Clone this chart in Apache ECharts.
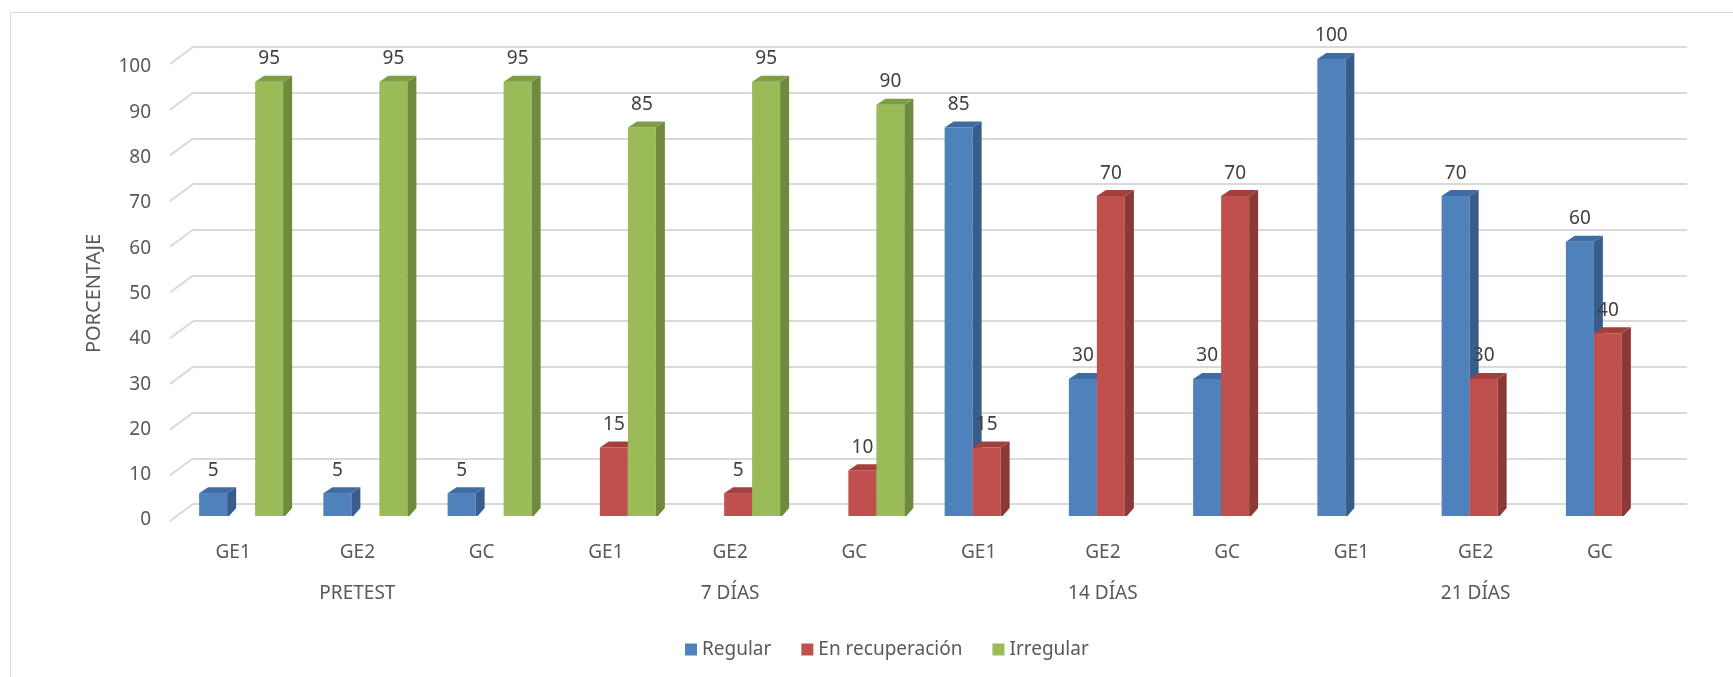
<html><head>
<meta charset="UTF-8">
<title>Porcentaje por grupo</title>
<style>
  body { margin: 0; background: #fff; }
  #chart { width: 1733px; height: 677px; }
</style>
</head>
<body>
<div id="chart"></div>
<script src="https://cdn.jsdelivr.net/npm/echarts@6/dist/echarts.min.js"></script>
<script>
  // datos
  const categorias = ['GE1', 'GE2', 'GC', 'GE1', 'GE2', 'GC', 'GE1', 'GE2', 'GC', 'GE1', 'GE2', 'GC'];
  const grupos = ['PRETEST', '7 DÍAS', '14 DÍAS', '21 DÍAS'];
  const regular = [5, 5, 5, 0, 0, 0, 85, 30, 30, 100, 70, 60];
  const recuperacion = [0, 0, 0, 15, 5, 10, 15, 70, 70, 0, 30, 40];
  const irregular = [95, 95, 95, 85, 95, 90, 0, 0, 0, 0, 0, 0];
  const ticksY = [0, 10, 20, 30, 40, 50, 60, 70, 80, 90, 100];

  const FONT = "'Noto Sans', sans-serif";
  const GRIS = '#595959';
  const FS = 19;

  // frente, lado, tapa
  const colores = [
    ['#4f81bd', '#385d8a', '#3f6ca3'],
    ['#c0504d', '#8c3836', '#a3403d'],
    ['#9bbb59', '#6f8a3c', '#7e9d45']
  ];

  const BAR_W = 28, DX = 9, DY = 6, SHIFT = 8;

  function barra(idx) {
    return function (params, api) {
      const cat = api.value(0), val = api.value(1);
      if (!val) return null;
      const base = api.coord([cat, 0]);
      const top = api.coord([cat, val]);
      const x0 = base[0] + SHIFT + (idx - 1) * BAR_W - BAR_W / 2;
      const x1 = x0 + BAR_W;
      const c = colores[idx];
      return {
        type: 'group',
        children: [
          { type: 'rect', shape: { x: x0, y: top[1], width: BAR_W, height: base[1] - top[1] },
            style: { fill: c[0] } },
          { type: 'polygon', shape: { points: [[x1, top[1]], [x1 + DX, top[1] - DY], [x1 + DX, base[1] - DY - 2], [x1 + 2, base[1]], [x1, base[1]]] },
            style: { fill: c[1] } },
          { type: 'polygon', shape: { points: [[x0, top[1]], [x0 + DX, top[1] - DY], [x1 + DX, top[1] - DY], [x1, top[1]]] },
            style: { fill: c[2] } },
          { type: 'text', z2: 100, style: { x: x0 + BAR_W / 2, y: top[1] - 23, text: String(val),
              align: 'center', verticalAlign: 'middle', fill: '#404040', font: FS + 'px ' + FONT } }
        ]
      };
    };
  }

  const chart = echarts.init(document.getElementById('chart'));
  chart.setOption({
    animation: false,
    backgroundColor: '#fff',
    textStyle: { fontFamily: FONT },
    graphic: [{ type: 'rect', shape: { x: 10.5, y: 12.5, width: 1800, height: 800 },
      style: { fill: 'none', stroke: '#d9d9d9', lineWidth: 1 }, z: -10 }],
    grid: [
      { left: 171, right: 71, top: 59, bottom: 161 },
      { left: 193, right: 46, top: 47, bottom: 173 },
      { left: 170, right: 71, top: 67, bottom: 157 }
    ],
    xAxis: [
      { type: 'category', gridIndex: 0, data: categorias, axisLine: { show: false }, axisTick: { show: false },
        axisLabel: { margin: 27, fontSize: FS, color: GRIS, fontFamily: FONT } },
      { type: 'category', gridIndex: 0, data: grupos, position: 'bottom', axisLine: { show: false }, axisTick: { show: false },
        axisLabel: { margin: 68, fontSize: FS, color: GRIS, fontFamily: FONT } },
      { type: 'value', gridIndex: 1, min: 0, max: 1, show: false },
      { type: 'category', gridIndex: 2, data: categorias, show: false }
    ],
    yAxis: [
      { type: 'value', gridIndex: 0, min: 0, max: 100, show: false },
      { type: 'value', gridIndex: 1, min: 0, max: 100, interval: 10,
        axisLine: { show: false }, axisTick: { show: false }, axisLabel: { show: false },
        splitLine: { lineStyle: { color: '#d9d9d9', width: 2 } } },
      { type: 'value', gridIndex: 2, min: 0, max: 100, interval: 10,
        axisLine: { show: false }, axisTick: { show: false }, splitLine: { show: false },
        axisLabel: { margin: 19, fontSize: FS, color: GRIS, fontFamily: FONT },
        name: 'PORCENTAJE', nameLocation: 'middle', nameGap: 66, nameRotate: 90,
        nameTextStyle: { fontSize: 20, color: GRIS, fontFamily: FONT } }
    ],
    legend: {
      data: ['Regular', 'En recuperación', 'Irregular'],
      left: 680, top: 635, icon: 'rect', itemWidth: 12, itemHeight: 12, itemGap: 30,
      textStyle: { fontSize: FS, color: GRIS, fontFamily: FONT }
    },
    series: [
      { // diagonales de la pared
        type: 'custom', xAxisIndex: 2, yAxisIndex: 1, silent: true,
        data: ticksY.map(v => [0, v]),
        renderItem: function (params, api) {
          const p = api.coord([0, api.value(1)]);
          return { type: 'line', shape: { x1: p[0], y1: p[1], x2: p[0] - 23, y2: p[1] + 17 },
            style: { stroke: '#d9d9d9', lineWidth: 2 } };
        }
      },
      { name: 'Regular', type: 'custom', xAxisIndex: 0, yAxisIndex: 0, itemStyle: { color: colores[0][0] },
        data: regular.map((v, i) => [i, v]), renderItem: barra(0) },
      { name: 'En recuperación', type: 'custom', xAxisIndex: 0, yAxisIndex: 0, itemStyle: { color: colores[1][0] },
        data: recuperacion.map((v, i) => [i, v]), renderItem: barra(1) },
      { name: 'Irregular', type: 'custom', xAxisIndex: 0, yAxisIndex: 0, itemStyle: { color: colores[2][0] },
        data: irregular.map((v, i) => [i, v]), renderItem: barra(2) }
    ]
  });
</script>
</body></html>
